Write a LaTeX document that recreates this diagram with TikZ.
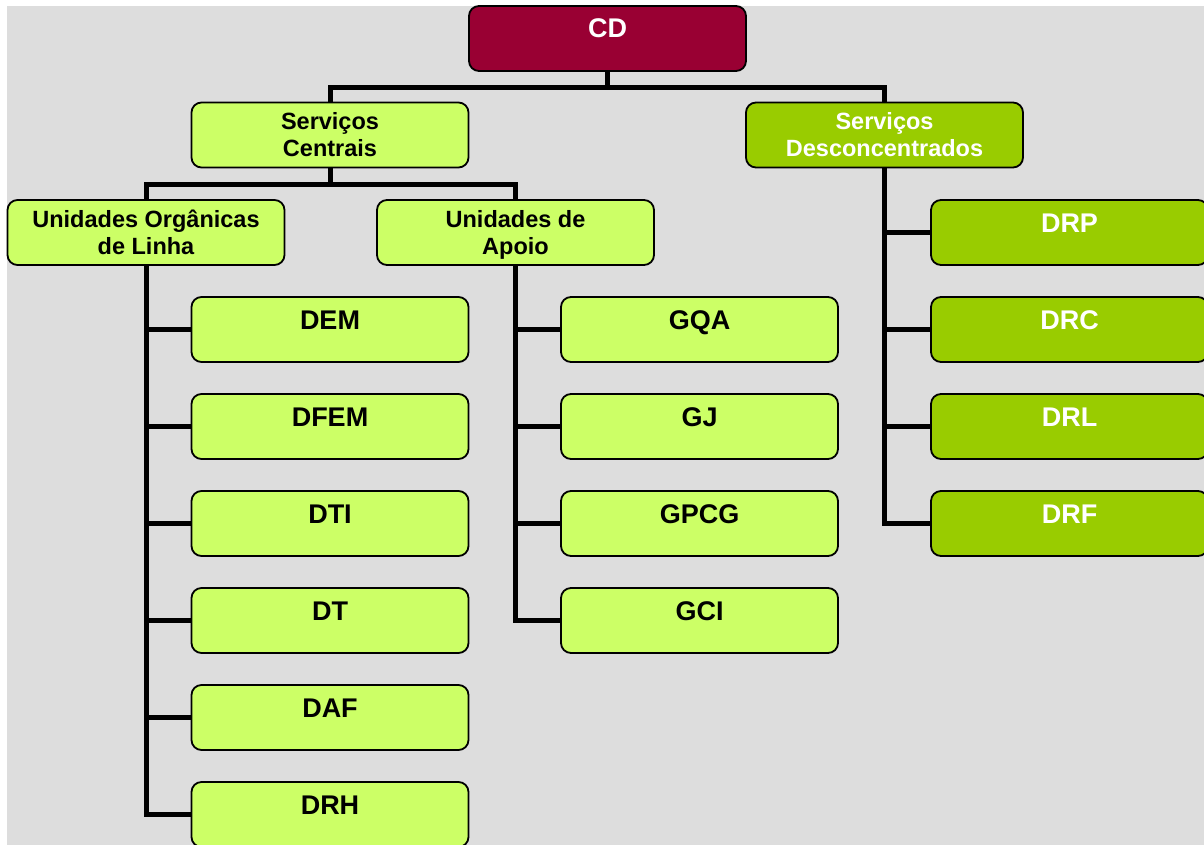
\documentclass[tikz,border=0pt]{standalone}
\usepackage{fontspec}
\setmainfont{Liberation Sans}
\definecolor{bgc}{HTML}{DDDDDD}
\definecolor{cdred}{HTML}{990033}
\definecolor{lightg}{HTML}{CCFF66}
\definecolor{darkg}{HTML}{99CC00}
\pgfdeclarelayer{bglayer}
\pgfdeclarelayer{lines}
\pgfsetlayers{bglayer,lines,main}
\begin{document}
\begin{tikzpicture}[x=1pt,y=-1pt,
  box/.style={draw=black, line width=1.8pt, rounded corners=10pt, minimum width=277pt, minimum height=65pt, inner sep=0pt, outer sep=0pt},
  lg/.style={box, fill=lightg},
  dg/.style={box, fill=darkg},
  cdbox/.style={box, fill=cdred},
  lbl/.style={anchor=base, inner sep=0pt, font=\fontsize{27}{32}\selectfont\bfseries},
  lbltwo/.style={anchor=base, inner sep=0pt, font=\fontsize{23.5}{27.5}\selectfont\bfseries},
  conn/.style={line width=5pt, line join=miter}]
\clip (0,0) rectangle (1204,844);
\begin{pgfonlayer}{bglayer}
\fill[bgc] (7,6) rectangle (1204,850);
\end{pgfonlayer}
% boxes
\node[cdbox] (cd) at (607.5,38.5) {};
\node[lg] (sc) at (330,135) {};
\node[dg] (sd) at (884.5,135) {};
\node[lg] (uol) at (146,232.5) {};
\node[lg] (ua) at (515.5,232.5) {};
\node[lg] (dem) at (330,329.5) {};
\node[lg] (dfem) at (330,426.5) {};
\node[lg] (dti) at (330,523.5) {};
\node[lg] (dt) at (330,620.5) {};
\node[lg] (daf) at (330,717.5) {};
\node[lg] (drh) at (330,814.5) {};
\node[lg] (gqa) at (699.5,329.5) {};
\node[lg] (gj) at (699.5,426.5) {};
\node[lg] (gpcg) at (699.5,523.5) {};
\node[lg] (gci) at (699.5,620.5) {};
\node[dg] (drp) at (1069.5,232.5) {};
\node[dg] (drc) at (1069.5,329.5) {};
\node[dg] (drl) at (1069.5,426.5) {};
\node[dg] (drf) at (1069.5,523.5) {};
% labels
\node[lbl, text=white] (tcd) at ([yshift=-31pt]cd.north) {CD};
\node[lbltwo] (tsc) at ([yshift=-26.5pt]sc.north) {\begin{tabular}[t]{@{}c@{}}Serviços\\Centrais\end{tabular}};
\node[lbltwo, text=white] (tsd) at ([yshift=-26.5pt]sd.north) {\begin{tabular}[t]{@{}c@{}}Serviços\\Desconcentrados\end{tabular}};
\node[lbltwo] (tuol) at ([yshift=-27pt]uol.north) {\begin{tabular}[t]{@{}c@{}}Unidades Orgânicas\\de Linha\end{tabular}};
\node[lbltwo] (tua) at ([yshift=-27pt]ua.north) {\begin{tabular}[t]{@{}c@{}}Unidades de\\Apoio\end{tabular}};
\foreach \n/\t in {dem/DEM, dfem/DFEM, dti/DTI, dt/DT, daf/DAF, drh/DRH, gqa/GQA, gj/GJ, gpcg/GPCG, gci/GCI}
  \node[lbl] (t\n) at ([yshift=-32pt]\n.north) {\t};
\foreach \n/\t in {drp/DRP, drc/DRC, drl/DRL, drf/DRF}
  \node[lbl, text=white] (t\n) at ([yshift=-32pt]\n.north) {\t};
% connectors
\begin{pgfonlayer}{lines}
\draw[conn] (cd.south) -- ++(0,16) -| (sc.north);
\draw[conn] (cd.south) -- ++(0,16) -| (sd.north);
\draw[conn] (sc.south) -- ++(0,17) -| (uol.north);
\draw[conn] (sc.south) -- ++(0,17) -| (ua.north);
\foreach \n in {dem,dfem,dti,dt,daf,drh}
  \draw[conn] (uol.south) |- (\n.west);
\foreach \n in {gqa,gj,gpcg,gci}
  \draw[conn] (ua.south) |- (\n.west);
\foreach \n in {drp,drc,drl,drf}
  \draw[conn] (sd.south) |- (\n.west);
\end{pgfonlayer}
\end{tikzpicture}
\end{document}
